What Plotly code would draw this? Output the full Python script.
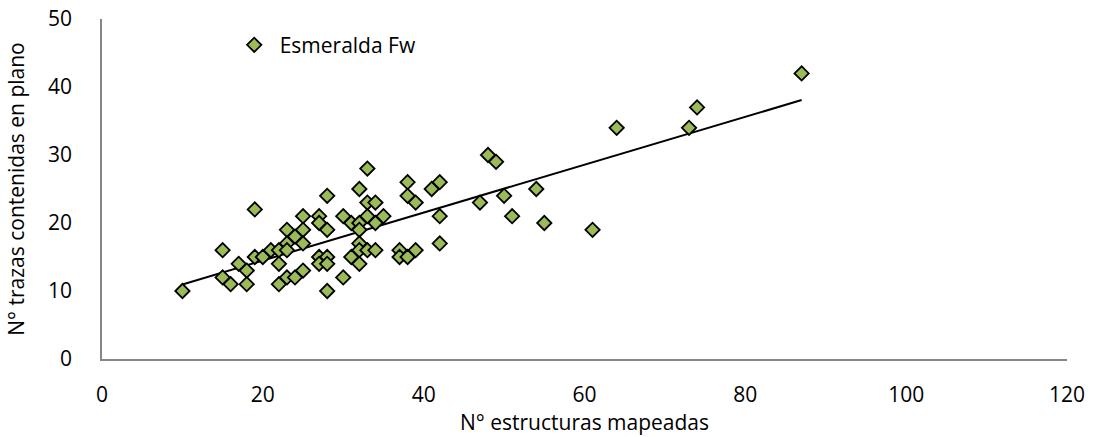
import numpy as np
import plotly.graph_objects as go

# N° estructuras mapeadas (x) vs N° trazas contenidas en plano (y)
estructuras = [10, 15, 15, 16, 17, 18, 18, 19, 19, 20, 21, 22, 22, 22, 23, 23, 23, 23,
               24, 24, 25, 25, 25, 25, 27, 27, 27, 27, 28, 28, 28, 28, 28, 30, 30, 31,
               31, 32, 32, 32, 32, 32, 32, 33, 33, 33, 33, 34, 34, 34, 35, 37, 37, 38,
               38, 38, 39, 39, 41, 42, 42, 42, 47, 48, 49, 50, 51, 54, 55, 61, 64, 73,
               74, 87]
trazas = [10, 16, 12, 11, 14, 13, 11, 15, 22, 15, 16, 16, 14, 11, 19, 17, 16, 12,
          18, 12, 21, 19, 17, 13, 21, 20, 15, 14, 24, 19, 15, 14, 10, 21, 12, 20,
          15, 25, 20, 19, 17, 16, 14, 28, 23, 21, 16, 23, 20, 16, 21, 16, 15, 26,
          24, 15, 23, 16, 25, 26, 21, 17, 23, 30, 29, 24, 21, 25, 20, 19, 34, 34,
          37, 42]

x = np.array(estructuras, dtype=float)
y = np.array(trazas, dtype=float)

# linear trendline (least squares), drawn over the data range
m, b = np.polyfit(x, y, 1)
x_fit = np.array([x.min(), x.max()])
y_fit = m * x_fit + b
print(f"slope={m:.3f} intercept={b:.3f}")

font_family = "'Open Sans', Lato, sans-serif"
axis_color = "#868686"
fsize = 21

fig = go.Figure()

fig.add_trace(go.Scatter(
    x=x_fit, y=y_fit, mode="lines",
    line=dict(color="black", width=2),
    showlegend=False, hoverinfo="skip",
))

fig.add_trace(go.Scatter(
    x=estructuras, y=trazas, mode="markers", name="\u00a0Esmeralda Fw",
    marker=dict(symbol="diamond", size=11, color="#9BBB59",
                line=dict(color="black", width=1.8)),
))

fig.update_xaxes(
    range=[0, 120], dtick=20, showgrid=False, zeroline=False,
    showline=True, linecolor=axis_color, linewidth=1.5,
    ticks="", tickfont=dict(size=fsize, color="black"), ticklabelstandoff=16,
    title=dict(text="N° estructuras mapeadas", font=dict(size=fsize, color="black"), standoff=6),
)
fig.update_yaxes(
    range=[0, 50], dtick=10, showgrid=False, zeroline=False,
    showline=True, linecolor=axis_color, linewidth=1.5,
    ticks="", tickfont=dict(size=fsize, color="black"), ticklabelstandoff=24,
    title=dict(text="N° trazas contenidas en plano", font=dict(size=fsize, color="black"), standoff=18),
)

fig.update_layout(
    width=1096, height=437,
    margin=dict(l=102, r=29, t=19, b=78, autoexpand=False),
    plot_bgcolor="white", paper_bgcolor="white",
    font=dict(family=font_family, color="black"),
    legend=dict(x=0.137, y=0.923, xanchor="left", yanchor="middle",
                bgcolor="rgba(0,0,0,0)", font=dict(size=fsize)),
)

fig.write_html("out.html", config={"displayModeBar": False},
               post_script="document.body.style.margin='0';")
